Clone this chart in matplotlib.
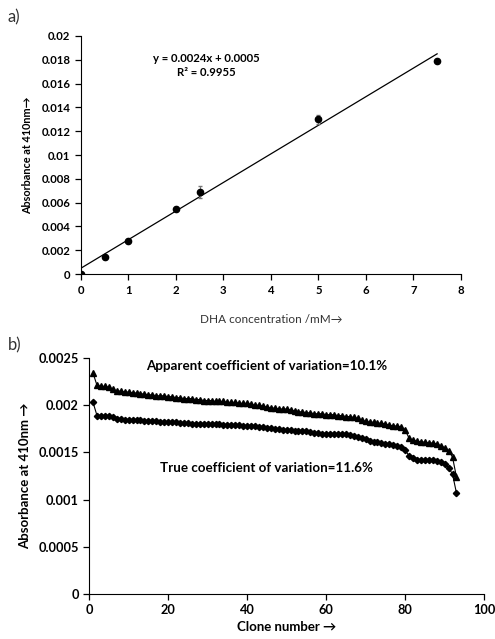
import matplotlib
matplotlib.use("Agg")
import matplotlib.pyplot as plt

plt.rcParams['font.family'] = ['Lato', 'DejaVu Sans']

# panel a: calibration
conc = [0, 0.5, 1, 2, 2.5, 5, 7.5]
absorb = [0.0, 0.0014, 0.0028, 0.0055, 0.0069, 0.0130, 0.0179]
err = [0.0, 0.0001, 0.0001, 0.0001, 0.0005, 0.0004, 0.0001]
slope, intercept = 0.0024, 0.0005

# panel b: clone absorbances, sorted
apparent = [0.00234, 0.00221, 0.00220, 0.00220, 0.00219, 0.00217, 0.00215, 0.00215, 0.00214, 0.00214,
            0.00213, 0.00213, 0.00212, 0.00212, 0.00211, 0.00211, 0.00210, 0.00210, 0.00210, 0.00209,
            0.00209, 0.00208, 0.00208, 0.00207, 0.00207, 0.00207, 0.00206, 0.00206, 0.00205, 0.00205,
            0.00205, 0.00204, 0.00204, 0.00204, 0.00203, 0.00203, 0.00203, 0.00202, 0.00202, 0.00202,
            0.00201, 0.00200, 0.00200, 0.00199, 0.00198, 0.00197, 0.00197, 0.00196, 0.00196, 0.00196,
            0.00195, 0.00194, 0.00193, 0.00193, 0.00192, 0.00192, 0.00191, 0.00191, 0.00191, 0.00190,
            0.00190, 0.00190, 0.00189, 0.00189, 0.00188, 0.00188, 0.00187, 0.00186, 0.00184, 0.00183,
            0.00182, 0.00182, 0.00181, 0.00181, 0.00180, 0.00179, 0.00178, 0.00178, 0.00177, 0.00174,
            0.00165, 0.00163, 0.00162, 0.00161, 0.00161, 0.00160, 0.00160, 0.00159, 0.00157, 0.00155,
            0.00152, 0.00145, 0.00124]
true = [0.00203, 0.00189, 0.00189, 0.00189, 0.00189, 0.00187, 0.00185, 0.00185, 0.00184, 0.00184,
        0.00184, 0.00184, 0.00184, 0.00183, 0.00183, 0.00183, 0.00183, 0.00182, 0.00182, 0.00182,
        0.00182, 0.00182, 0.00181, 0.00181, 0.00181, 0.00180, 0.00180, 0.00180, 0.00180, 0.00180,
        0.00180, 0.00180, 0.00180, 0.00179, 0.00179, 0.00179, 0.00179, 0.00179, 0.00178, 0.00178,
        0.00178, 0.00178, 0.00177, 0.00177, 0.00176, 0.00176, 0.00175, 0.00175, 0.00174, 0.00174,
        0.00174, 0.00173, 0.00173, 0.00173, 0.00173, 0.00172, 0.00171, 0.00171, 0.00170, 0.00170,
        0.00170, 0.00169, 0.00169, 0.00169, 0.00169, 0.00168, 0.00167, 0.00166, 0.00165, 0.00164,
        0.00162, 0.00161, 0.00161, 0.00160, 0.00159, 0.00159, 0.00158, 0.00157, 0.00156, 0.00153,
        0.00146, 0.00144, 0.00142, 0.00142, 0.00142, 0.00142, 0.00142, 0.00141, 0.00140, 0.00138,
        0.00134, 0.00127, 0.00107]
clones = list(range(1, len(apparent) + 1))

fig = plt.figure(figsize=(4.95, 6.39), dpi=100)

ax1 = fig.add_axes([0.1636, 0.571, 0.7674, 0.3727])
ax1.errorbar(conc, absorb, yerr=err, fmt='o', color='black', ms=4.5, ecolor='#777777',
             elinewidth=0.8, capsize=1.5, zorder=3)
fitx = [0, 7.5]
ax1.plot(fitx, [slope * x + intercept for x in fitx], color='black', lw=0.9)
ax1.set_xlim(0, 8)
ax1.set_ylim(0, 0.02)
ax1.set_xticks(range(0, 9))
ax1.set_yticks([i * 0.002 for i in range(11)])
ax1.set_yticklabels(['0', '0.002', '0.004', '0.006', '0.008', '0.01', '0.012', '0.014',
                     '0.016', '0.018', '0.02'])
ax1.text(2.65, 0.01815, 'y = 0.0024x + 0.0005', ha='center', va='center', fontsize=8.2, fontweight='bold')
ax1.text(2.65, 0.0169, 'R² = 0.9955', ha='center', va='center', fontsize=8.2, fontweight='bold')
ax1.set_xlabel('DHA concentration /mM→', fontsize=8.5, color='#333333', labelpad=13)
ax1.set_ylabel('Absorbance at 410nm→', fontsize=7.8, fontweight='bold', labelpad=6)

ax2 = fig.add_axes([0.18, 0.0704, 0.798, 0.3693])
ax2.plot(clones, apparent, color='black', marker='^', ms=4.2, lw=0.8)
ax2.plot(clones, true, color='black', marker='D', ms=3.2, lw=0.8)
ax2.set_xlim(0, 100)
ax2.set_ylim(0, 0.0025)
ax2.set_xticks(range(0, 101, 20))
ax2.set_yticks([0, 0.0005, 0.001, 0.0015, 0.002, 0.0025])
ax2.set_yticklabels(['0', '0.0005', '0.001', '0.0015', '0.002', '0.0025'])
ax2.text(45, 0.00242, 'Apparent coefficient of variation=10.1%', ha='center', va='center',
         fontsize=9.6, fontweight='bold')
ax2.text(45, 0.00134, 'True coefficient of variation=11.6%', ha='center', va='center',
         fontsize=9.6, fontweight='bold')
ax2.set_xlabel('Clone number →', fontsize=9.5, fontweight='bold', labelpad=3)
ax2.set_ylabel('Absorbance at 410nm →', fontsize=9.5, fontweight='bold', labelpad=5)

for ax, fs in ((ax1, 8.2), (ax2, 9.2)):
    ax.spines['top'].set_visible(False)
    ax.spines['right'].set_visible(False)
    ax.tick_params(direction='out', length=4, width=0.9, labelsize=fs)
    for lab in ax.get_xticklabels() + ax.get_yticklabels():
        lab.set_fontweight('bold')

fig.text(0.016, 0.965, 'a)', fontsize=12, color='#333333')
fig.text(0.016, 0.452, 'b)', fontsize=12, color='#333333')

fig.savefig('out.png', dpi=100)
